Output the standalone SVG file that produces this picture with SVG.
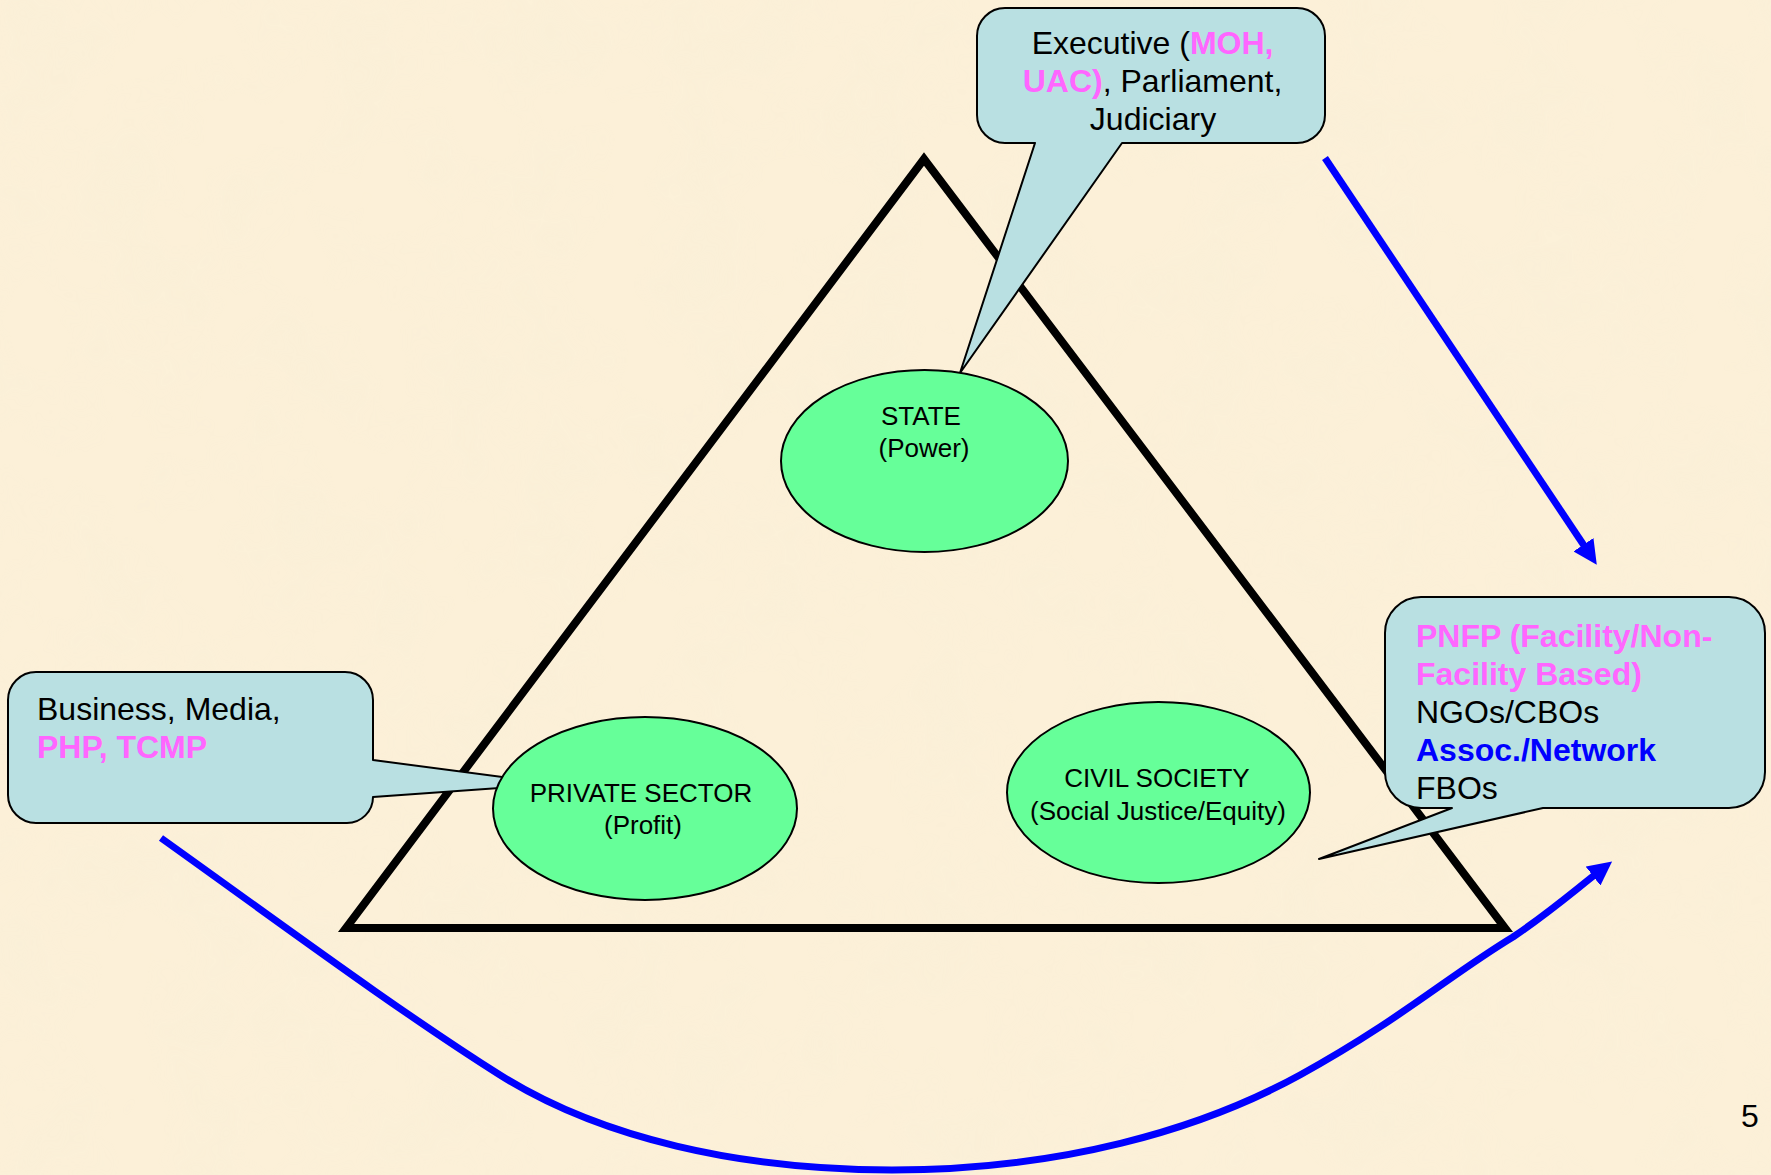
<svg xmlns="http://www.w3.org/2000/svg" width="1771" height="1175" viewBox="0 0 1771 1175">
<style>
  .t { font-family: "Liberation Sans", Arial, sans-serif; fill: #000; }
  .big { font-size: 32px; }
  .small { font-size: 26px; }
  .mag { fill: #FF66FF; font-weight: bold; }
  .blu { fill: #0000FF; font-weight: bold; }
  .callout { fill: #B9E0E2; stroke: #000; stroke-width: 2; stroke-linejoin: round; }
  .oval { fill: #66FF99; stroke: #000; stroke-width: 2; }
  .arrow { fill: none; stroke: #0000FF; stroke-width: 7; }
</style>
<defs>
  <marker id="ah" viewBox="0 0 24 24" refX="10" refY="12" markerWidth="24" markerHeight="24" markerUnits="userSpaceOnUse" orient="auto">
    <path d="M0,0 L24,12 L0,24 z" fill="#0000FF"/>
  </marker>
  <filter id="paper" x="0" y="0" width="100%" height="100%">
    <feTurbulence type="fractalNoise" baseFrequency="0.012" numOctaves="3" seed="4" result="n"/>
    <feColorMatrix in="n" type="matrix" values="0 0 0 0 0.93  0 0 0 0 0.86  0 0 0 0 0.68  0 0 0 -1.4 0.85" />
  </filter>
</defs>
<rect width="1771" height="1175" fill="#FCF0D8"/>
<rect width="1771" height="1175" filter="url(#paper)" opacity="0.5"/>

<g id="triangle">
  <polygon points="924,159 1505,928 346,928" fill="none" stroke="#000" stroke-width="8" stroke-linejoin="miter"/>
</g>

<g id="connectors">
  <path class="arrow" d="M1325,158 L1589,553" marker-end="url(#ah)"/>
  <path class="arrow" d="M161,838 C280,923 400,1012 500,1075 C600,1138 740,1170 892,1170 C1060,1170 1200,1130 1300,1075 C1400,1020 1450,975 1513,937 C1550,912 1575,890 1601,870" marker-end="url(#ah)"/>
</g>

<g id="callout-state">
  <path class="callout" d="M1005,8 H1297 A28,28 0 0 1 1325,36 V115 A28,28 0 0 1 1297,143 H1122 L960,373 L1035,143 H1005 A28,28 0 0 1 977,115 V36 A28,28 0 0 1 1005,8 Z"/>
  <text class="t big" text-anchor="middle">
    <tspan x="1157" y="54">Executive (<tspan class="mag">MOH,</tspan></tspan>
    <tspan x="1157" y="92"><tspan class="mag">UAC)</tspan>, Parliament,</tspan>
    <tspan x="1153" y="130">Judiciary</tspan>
  </text>
</g>

<g id="callout-private">
  <path class="callout" d="M36,672 H345 A28,28 0 0 1 373,700 V760 L555,784 L373,797 A26,26 0 0 1 347,823 H36 A28,28 0 0 1 8,795 V700 A28,28 0 0 1 36,672 Z"/>
  <text class="t big">
    <tspan x="37" y="720">Business, Media,</tspan>
    <tspan x="37" y="758" class="mag">PHP, TCMP</tspan>
  </text>
</g>

<g id="callout-civil">
  <path class="callout" d="M1421,597 H1729 A36,36 0 0 1 1765,633 V772 A36,36 0 0 1 1729,808 H1543 L1319,859 L1452,808 H1421 A36,36 0 0 1 1385,772 V633 A36,36 0 0 1 1421,597 Z"/>
  <text class="t big">
    <tspan x="1416" y="647" class="mag">PNFP (Facility/Non-</tspan>
    <tspan x="1416" y="685" class="mag">Facility Based)</tspan>
    <tspan x="1416" y="723">NGOs/CBOs</tspan>
    <tspan x="1416" y="761" class="blu">Assoc./Network</tspan>
    <tspan x="1416" y="799">FBOs</tspan>
  </text>
</g>

<g id="state">
  <ellipse class="oval" cx="924.5" cy="461" rx="143.5" ry="91"/>
  <text class="t small" text-anchor="middle"><tspan x="921" y="425">STATE</tspan><tspan x="924" y="457">(Power)</tspan></text>
</g>

<g id="private-sector">
  <ellipse class="oval" cx="645" cy="808.5" rx="152" ry="91.5"/>
  <text class="t small" text-anchor="middle"><tspan x="641" y="802">PRIVATE SECTOR</tspan><tspan x="643" y="834">(Profit)</tspan></text>
</g>

<g id="civil-society">
  <ellipse class="oval" cx="1158.5" cy="792.5" rx="151.5" ry="90.5"/>
  <text class="t small" text-anchor="middle"><tspan x="1157" y="787">CIVIL SOCIETY</tspan><tspan x="1158" y="820">(Social Justice/Equity)</tspan></text>
</g>

<text class="t big" x="1741" y="1127">5</text>
</svg>
